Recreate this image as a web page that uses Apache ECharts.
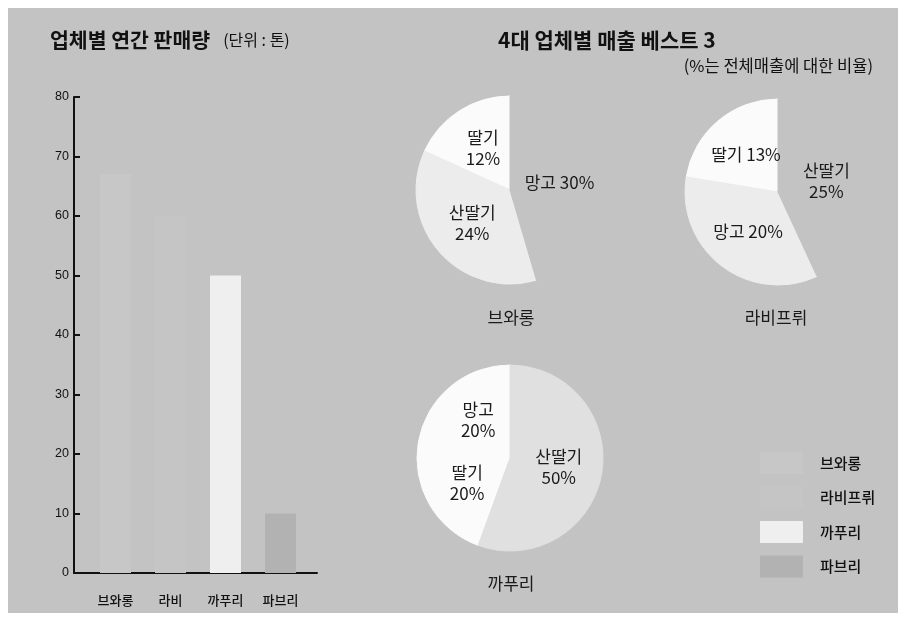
<!DOCTYPE html>
<html>
<head>
<meta charset="utf-8">
<script src="https://cdn.jsdelivr.net/npm/echarts@6/dist/echarts.min.js"></script>
<style>
    html, body { margin: 0; padding: 0; background: #fff; }
    #chart { position: absolute; left: 8px; top: 8px; width: 890px; height: 605px; }
</style>
</head>
<body>
<div id="chart"></div>
<script>
    // 업체별 연간 판매량 (단위: 톤)
    var companies = ['브와롱', '라비', '까푸리', '파브리'];
    var legendNames = ['브와롱', '라비프뤼', '까푸리', '파브리'];
    var volumes = [67, 60, 50, 10];
    var yMin = 0, yMax = 80, yStep = 10;

    // 4대 업체별 매출 베스트 3 (%는 전체매출에 대한 비율)
    var pieNames = ['브와롱', '라비프뤼', '까푸리'];
    var bwarongItems = ['딸기', '산딸기', '망고'];
    var bwarongShares = [12, 24, 30];
    var rabiItems = ['딸기', '망고', '산딸기'];
    var rabiShares = [13, 20, 25];
    var kkapuriItems = ['망고', '딸기', '산딸기'];
    var kkapuriShares = [20, 20, 50];

    var FONT = '"Noto Sans CJK KR", "Noto Sans", sans-serif';
    var BG = '#c3c3c3';
    var WHITE = '#fbfbfb';
    var DOT = '#ececec';
    var DOT2 = '#e0e0e0';
    var barColors = ['#c7c7c7', '#c5c5c5', '#efefef', '#b2b2b2'];
    var pieFills = [[WHITE, DOT, BG], [WHITE, DOT, BG], [WHITE, WHITE, DOT2]];
    // labels printed on one line instead of two
    var oneLine = { '브와롱:망고': 1, '라비프뤼:딸기': 1, '라비프뤼:망고': 1 };

    function pieSeries(idx, items, shares, center, r) {
        return {
            type: 'pie',
            center: center,
            radius: r,
            startAngle: 90,
            clockwise: false,
            silent: true,
            avoidLabelOverlap: false,
            label: {
                position: 'inside',
                fontFamily: FONT,
                fontSize: 17,
                lineHeight: 21,
                color: '#1a1a1a',
                formatter: function (p) {
                    var sep = oneLine[pieNames[idx] + ':' + p.name] ? ' ' : '\n';
                    return p.name + sep + p.value + '%';
                }
            },
            labelLine: { show: false },
            data: items.map(function (n, i) {
                var c = pieFills[idx][i];
                return { name: n, value: shares[i], itemStyle: { color: c, borderColor: c, borderWidth: 1 } };
            })
        };
    }

    var chart = echarts.init(document.getElementById('chart'));

    var series = legendNames.map(function (name, i) {
        return {
            type: 'bar',
            name: name,
            xAxisIndex: 0,
            yAxisIndex: 0,
            barWidth: 31,
            barGap: '-100%',
            silent: true,
            itemStyle: { color: barColors[i] },
            data: companies.map(function (c, j) { return j === i ? volumes[i] : '-'; })
        };
    });
    series.push(pieSeries(0, bwarongItems, bwarongShares, [502, 182], 94));
    series.push(pieSeries(1, rabiItems, rabiShares, [770, 184], 93));
    series.push(pieSeries(2, kkapuriItems, kkapuriShares, [502, 450], 93));

    var captionTops = [301, 301, 567];
    var captionLefts = [503, 768, 503];

    var titles = [
        {
            text: '{a|업체별 연간 판매량}  {b|(단위 : 톤)}',
            left: 42, top: 22, padding: 0,
            textStyle: {
                rich: {
                    a: { fontFamily: FONT, fontSize: 20.5, fontWeight: 'bold', color: '#111' },
                    b: { fontFamily: FONT, fontSize: 16, fontWeight: 'normal', color: '#111', padding: [0, 0, 0, 3] }
                }
            }
        },
        {
            text: '4대 업체별 매출 베스트 3',
            left: 490, top: 22, padding: 0,
            textStyle: { fontFamily: FONT, fontSize: 21, fontWeight: 'bold', color: '#111' }
        },
        {
            text: '(%는 전체매출에 대한 비율)',
            right: 25, top: 49, padding: 0,
            textStyle: { fontFamily: FONT, fontSize: 16.5, fontWeight: 'normal', color: '#111' }
        }
    ];
    pieNames.forEach(function (n, i) {
        titles.push({
            text: n,
            left: captionLefts[i], top: captionTops[i], padding: 0,
            textAlign: 'center',
            textStyle: { fontFamily: FONT, fontSize: 17, fontWeight: 'normal', color: '#1a1a1a' }
        });
    });

    chart.setOption({
        backgroundColor: BG,
        animation: false,
        title: titles,
        legend: {
            data: legendNames,
            orient: 'vertical',
            left: 752, top: 444, padding: 0,
            itemWidth: 43, itemHeight: 22, itemGap: 12.5,
            icon: 'rect',
            selectedMode: false,
            textStyle: { fontFamily: FONT, fontSize: 15, fontWeight: 500, color: '#111', padding: [0, 0, 0, 12] }
        },
        grid: [
            { left: 80, right: 590, top: 89, bottom: 40 },
            { left: 66, right: 581, top: 89, bottom: 40 }
        ],
        xAxis: [
            {
                gridIndex: 0, type: 'category', data: companies,
                axisLine: { show: false }, axisTick: { show: false },
                axisLabel: { fontFamily: FONT, fontSize: 13, fontWeight: 500, color: '#111', margin: 21 }
            },
            {
                gridIndex: 1, type: 'category', data: companies,
                axisLine: { show: true, lineStyle: { color: '#111', width: 2 } },
                axisTick: { show: false }, axisLabel: { show: false }
            }
        ],
        yAxis: [
            {
                gridIndex: 0, type: 'value', min: yMin, max: yMax, interval: yStep, offset: 14,
                axisLine: { show: true, lineStyle: { color: '#111', width: 2 } },
                axisTick: { show: true, inside: true, length: 6, lineStyle: { color: '#111', width: 2 } },
                axisLabel: { fontFamily: '"Liberation Sans", Arial, sans-serif', fontSize: 12.5, color: '#111', margin: 5 },
                splitLine: { show: false }
            },
            { gridIndex: 1, type: 'value', min: yMin, max: yMax, show: false }
        ],
        series: series
    });
</script>
</body>
</html>
